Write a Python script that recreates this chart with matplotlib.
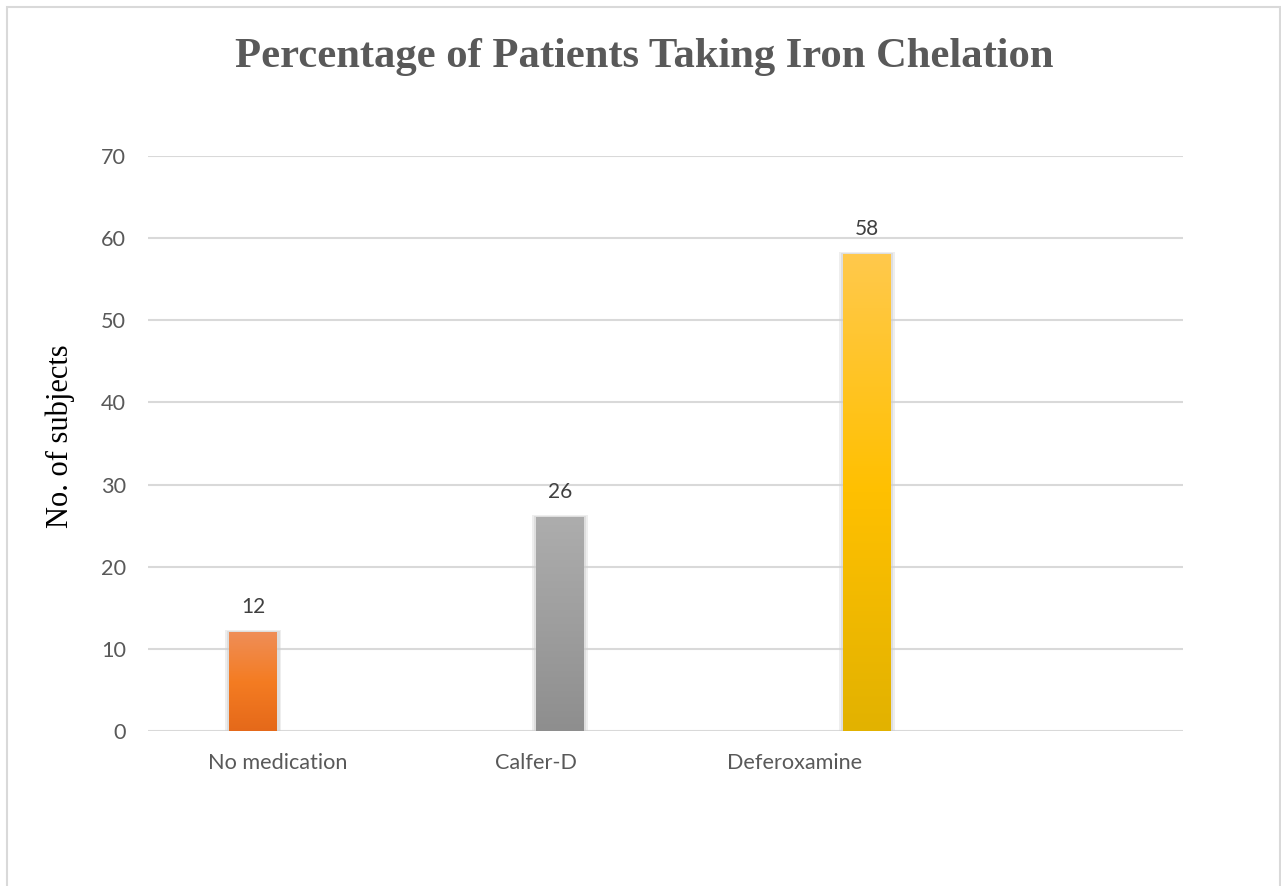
import matplotlib
matplotlib.use("Agg")
import matplotlib.pyplot as plt
import numpy as np
from matplotlib.colors import LinearSegmentedColormap
from matplotlib.patches import Rectangle

# data
categories = ["No medication", "Calfer-D", "Deferoxamine", ""]
subjects = [12, 26, 58]
bar_grads = [
    ["#E5691A", "#F47C22", "#EF8E58"],   # bottom -> top
    ["#8E8E8E", "#9E9E9E", "#ADADAD"],
    ["#E2B200", "#FFC000", "#FFC94C"],
]

TXT = "#595959"
GRID = "#D9D9D9"

fig = plt.figure(figsize=(12.81, 8.86), dpi=100)
W, H = 1281, 886

# outer chart border
fig.patches.append(Rectangle((7 / W, -0.05), (1280 - 7) / W, 1 - 7 / H + 0.05,
                             transform=fig.transFigure, fill=False,
                             edgecolor="#D9D9D9", linewidth=1.5))

ax = fig.add_axes([148 / W, (H - 731) / H, (1183 - 148) / W, (731 - 156) / H])
ax.set_yticks(range(0, 71, 10))
ax.set_xticks(range(len(categories)))
ax.set_xticklabels(categories)
for s in ax.spines.values():
    s.set_visible(False)
ax.grid(axis="y", color=GRID, linewidth=1.5)
ax.set_axisbelow(True)
ax.tick_params(length=0, colors=TXT, labelsize=15.6)
ax.tick_params(axis="y", pad=16)
ax.tick_params(axis="x", pad=16)
for lab in ax.get_xticklabels() + ax.get_yticklabels():
    lab.set_fontfamily("Lato")

# clustered layout: 4 series slots per category, one filled bar each
bw = 0.1855
for i, (v, cols) in enumerate(zip(subjects, bar_grads)):
    x = i + (i + 1 - 1.5) * bw
    # soft shadow around bar
    for k, a in [(0.03, 0.35), (0.018, 0.5)]:
        ax.bar(x, v + k * 9, width=bw + k, color="#CFCFCF", alpha=a,
               zorder=2, linewidth=0)
    cmap = LinearSegmentedColormap.from_list(f"g{i}", cols)
    grad = np.linspace(1, 0, 256).reshape(-1, 1)
    ax.imshow(grad, cmap=cmap, extent=(x - bw / 2, x + bw / 2, 0, v),
              aspect="auto", zorder=3, vmin=0, vmax=1)
    ax.text(x, v + 1.9, str(v), ha="center", va="bottom", fontsize=15,
            color="#404040", family="Lato", zorder=4)

ax.set_xlim(-0.5, 3.5)
ax.set_ylim(0, 70)

ax.set_ylabel("No. of subjects", family="Liberation Serif", fontsize=22,
              color="black", va="center")
ax.yaxis.set_label_coords(-0.085, 0.512)

fig.text(644 / W, 1 - 67 / H, "Percentage of Patients Taking Iron Chelation",
         ha="center", va="baseline", family="Liberation Serif",
         fontweight="bold", fontsize=30.7, color=TXT)

fig.savefig("out.png", dpi=100, facecolor="white")
